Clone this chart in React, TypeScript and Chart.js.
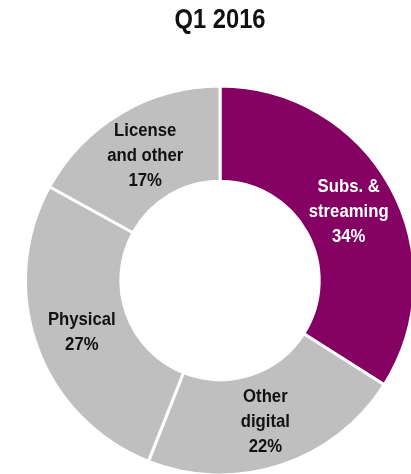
import React, { useEffect, useRef } from "react";
import { Chart, registerables } from "chart.js";

Chart.register(...registerables);

const titleText = "Q1 2016";
const categories = [["Subs. &", "streaming"], ["Other", "digital"], ["Physical"], ["License", "and other"]];
const shares = [34, 22, 27, 17];
const sliceColors = ["#840062", "#BFBFBF", "#BFBFBF", "#BFBFBF"];
const labelColors = ["#FFFFFF", "#111111", "#111111", "#111111"];

const FONT = "'Liberation Sans', Arial, sans-serif";
const SQUEEZE = 0.88;

function narrowText(ctx: CanvasRenderingContext2D, t: string, x: number, y: number) {
  ctx.save();
  ctx.translate(x, y);
  ctx.scale(SQUEEZE, 1);
  ctx.fillText(t, 0, 0);
  ctx.restore();
}

const sliceLabels = {
  id: "sliceLabels",
  afterDatasetsDraw(chart: any) {
    const ctx = chart.ctx;
    const meta = chart.getDatasetMeta(0);
    ctx.save();
    ctx.font = `bold 19px ${FONT}`;
    ctx.textAlign = "center";
    ctx.textBaseline = "middle";
    meta.data.forEach((arc: any, i: number) => {
      const p = arc.getCenterPoint();
      const lines = [...categories[i], `${shares[i]}%`];
      const lh = 25;
      const y0 = p.y + 2 - ((lines.length - 1) * lh) / 2;
      ctx.fillStyle = labelColors[i];
      lines.forEach((t, k) => narrowText(ctx, t, p.x, y0 + k * lh));
    });
    ctx.restore();
  },
};

const chartTitle = {
  id: "chartTitle",
  afterDraw(chart: any) {
    const ctx = chart.ctx;
    const area = chart.chartArea;
    ctx.save();
    ctx.font = `bold 27px ${FONT}`;
    ctx.textAlign = "center";
    ctx.textBaseline = "middle";
    ctx.fillStyle = "#111111";
    narrowText(ctx, titleText, (area.left + area.right) / 2, 21);
    ctx.restore();
  },
};

export default function App() {
  const ref = useRef<HTMLCanvasElement>(null);
  useEffect(() => {
    if (!ref.current) return;
    const chart = new Chart(ref.current, {
      type: "doughnut",
      data: {
        labels: categories.map((c) => c.join(" ")),
        datasets: [
          {
            data: shares,
            backgroundColor: sliceColors,
            borderColor: "#FFFFFF",
            borderWidth: 3,
          },
        ],
      },
      options: {
        responsive: false,
        animation: false,
        cutout: "51%",
        layout: { padding: { left: 24, right: 24, top: 84.5, bottom: 13.5 } },
        plugins: {
          legend: { display: false },
          tooltip: { enabled: false },
          title: { display: false },
        },
      },
      plugins: [sliceLabels, chartTitle],
    });
    return () => chart.destroy();
  }, []);
  return (
    <div style={{ position: "fixed", left: 0, top: 0, width: 411, height: 474, overflow: "hidden", background: "#fff" }}>
      <canvas ref={ref} width={440} height={490} style={{ display: "block", width: 440, height: 490 }} />
    </div>
  );
}
